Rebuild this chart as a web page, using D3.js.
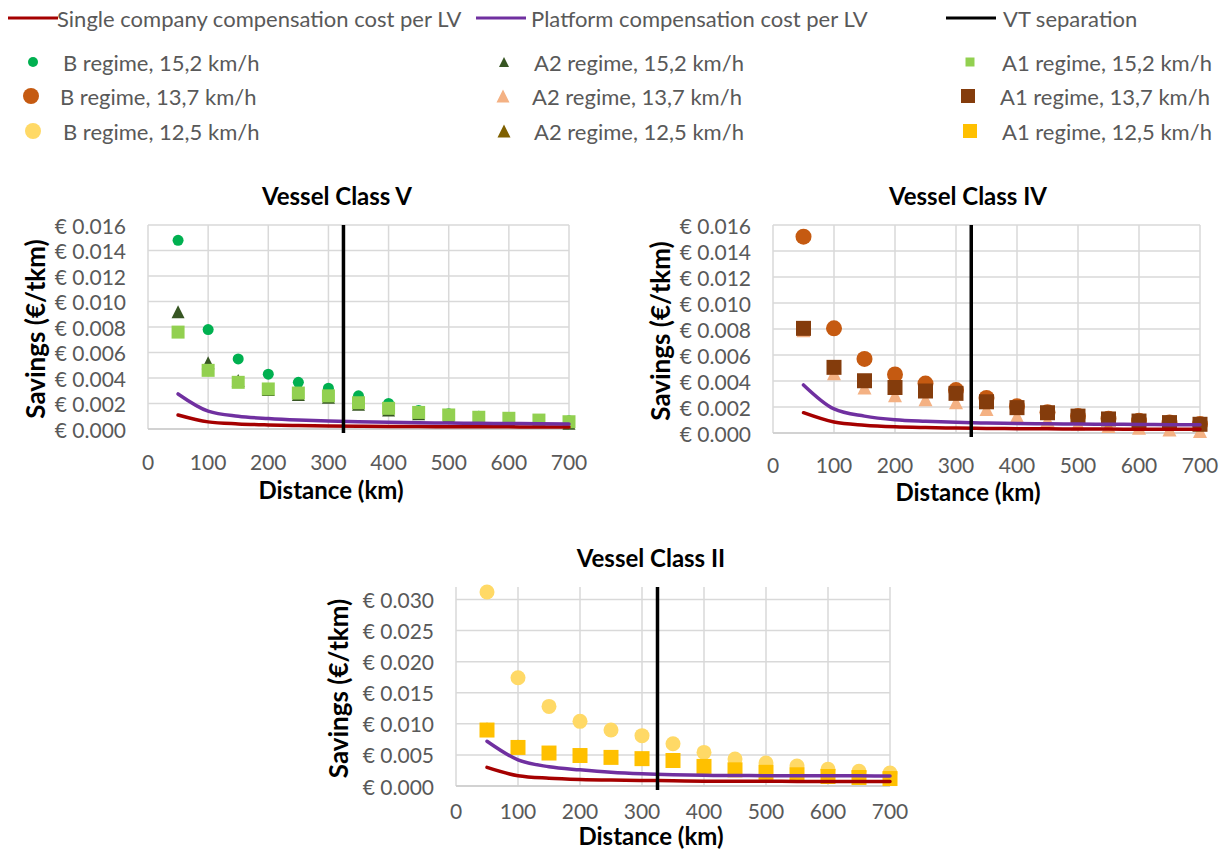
<!DOCTYPE html>
<html>
<head>
<meta charset="utf-8">
<script src="https://cdn.jsdelivr.net/npm/d3@7"></script>
<style>
  body { margin: 0; background: #fff; }
  text { font-family: Lato, "Open Sans", sans-serif; }
</style>
</head>
<body>
<div id="chart"></div>
<script>
// distances (km) shared by all series
const distances = [50, 100, 150, 200, 250, 300, 350, 400, 450, 500, 550, 600, 650, 700];
const xTicks = [0, 100, 200, 300, 400, 500, 600, 700];
const vtSeparation = 325;

// Vessel Class V (15,2 km/h)
const vSingle   = [0.00110, 0.00056, 0.00040, 0.00032, 0.00027, 0.00024, 0.00022, 0.00020, 0.00019, 0.00018, 0.00018, 0.00017, 0.00016, 0.00016];
const vPlatform = [0.00275, 0.00140, 0.00100, 0.00082, 0.00070, 0.00062, 0.00056, 0.00052, 0.00049, 0.00047, 0.00045, 0.00043, 0.00041, 0.00040];
const vB  = [0.0148, 0.0078, 0.0055, 0.0043, 0.00366, 0.0032, 0.0026, 0.0020, 0.00145, 0.0012, 0.0010, 0.00085, 0.00075, 0.00065];
const vA2 = [0.0092, 0.0052, 0.0038, 0.0031, 0.0027, 0.0025, 0.00195, 0.0015, 0.0012, 0.00098, 0.0008, 0.0007, 0.00058, 0.00046];
const vA1 = [0.0076, 0.0046, 0.00366, 0.00314, 0.00282, 0.0026, 0.00206, 0.00162, 0.0013, 0.0011, 0.00092, 0.00084, 0.0007, 0.00057];

// Vessel Class IV (13,7 km/h)
const ivSingle   = [0.00156, 0.00084, 0.00060, 0.00048, 0.00042, 0.00038, 0.00035, 0.00033, 0.00032, 0.00031, 0.00030, 0.00029, 0.00028, 0.00028];
const ivPlatform = [0.0037, 0.00185, 0.0013, 0.00102, 0.0009, 0.00082, 0.00077, 0.00074, 0.00071, 0.00069, 0.00067, 0.00066, 0.00064, 0.00063];
const ivB  = [0.0151, 0.00805, 0.0057, 0.0045, 0.0038, 0.0033, 0.0027, 0.00206, 0.0016, 0.0013, 0.0011, 0.00095, 0.0008, 0.0007];
const ivA2 = [0.0079, 0.0046, 0.0035, 0.0029, 0.0026, 0.00236, 0.00184, 0.00132, 0.0010, 0.00073, 0.00053, 0.0004, 0.00027, 0.00015];
const ivA1 = [0.00805, 0.00505, 0.00402, 0.0035, 0.00323, 0.00305, 0.0024, 0.00195, 0.00156, 0.0013, 0.00108, 0.00092, 0.0008, 0.00067];

// Vessel Class II (12,5 km/h)
const iiSingle   = [0.0030, 0.00165, 0.00125, 0.00105, 0.00095, 0.0009, 0.00083, 0.00078, 0.00076, 0.00075, 0.00074, 0.00073, 0.00072, 0.00072];
const iiPlatform = [0.0072, 0.0042, 0.0031, 0.0026, 0.0022, 0.00195, 0.0018, 0.00172, 0.00168, 0.00166, 0.00165, 0.00164, 0.00163, 0.00162];
const iiB  = [0.0312, 0.0174, 0.0128, 0.0104, 0.0090, 0.0081, 0.0068, 0.0054, 0.00435, 0.0037, 0.0032, 0.0027, 0.00237, 0.0021];
const iiA2 = [0.0093, 0.0065, 0.0055, 0.0051, 0.0048, 0.0046, 0.0039, 0.0030, 0.00245, 0.00205, 0.00165, 0.0014, 0.0012, 0.00105];
const iiA1 = [0.0090, 0.0062, 0.0053, 0.0049, 0.0046, 0.0044, 0.0041, 0.00315, 0.0026, 0.0022, 0.0018, 0.00153, 0.00137, 0.0012];

const colors = {
    single: "#a50000", platform: "#7030a0", vt: "#000000",
    b152: "#00b050", a2152: "#375623", a1152: "#92d050",
    b137: "#c55a11", a2137: "#f4b183", a1137: "#843c0c",
    b125: "#ffd966", a2125: "#7f6000", a1125: "#ffc000"
};

const svg = d3.select('#chart')
    .append('svg')
    .attr('width', 1225)
    .attr('height', 852)
    .style('background-color', '#ffffff');

// marker helper: circle / triangle / square centred on (0,0)
const markerPath = (shape, s) => {
    const h = s / 2;
    if (shape === 'circle') return `M${-h},0A${h},${h} 0 1,0 ${h},0A${h},${h} 0 1,0 ${-h},0Z`;
    if (shape === 'triangle') return `M0,${-h}L${h},${h}L${-h},${h}Z`;
    return `M${-h},${-h}H${h}V${h}H${-h}Z`;
};

// ---------- legend ----------
const legendLines = [
    {label: 'Single company compensation cost per LV', color: colors.single, x: 8, tx: 57},
    {label: 'Platform compensation cost per LV', color: colors.platform, x: 476, tx: 531},
    {label: 'VT separation', color: colors.vt, x: 946, tx: 1003}
];
const legendMarkers = [
    {label: 'B regime, 15,2 km/h', color: colors.b152, shape: 'circle', size: 10, x: 33, tx: 63, y: 62},
    {label: 'A2 regime, 15,2 km/h', color: colors.a2152, shape: 'triangle', size: 10, x: 504, tx: 534, y: 62},
    {label: 'A1 regime, 15,2 km/h', color: colors.a1152, shape: 'square', size: 9, x: 970, tx: 1002, y: 62},
    {label: 'B regime, 13,7 km/h', color: colors.b137, shape: 'circle', size: 16, x: 31, tx: 60, y: 96},
    {label: 'A2 regime, 13,7 km/h', color: colors.a2137, shape: 'triangle', size: 13, x: 503, tx: 532, y: 96},
    {label: 'A1 regime, 13,7 km/h', color: colors.a1137, shape: 'square', size: 14, x: 968, tx: 1000, y: 96},
    {label: 'B regime, 12,5 km/h', color: colors.b125, shape: 'circle', size: 16, x: 33, tx: 63, y: 131},
    {label: 'A2 regime, 12,5 km/h', color: colors.a2125, shape: 'triangle', size: 13, x: 504, tx: 534, y: 131},
    {label: 'A1 regime, 12,5 km/h', color: colors.a1125, shape: 'square', size: 14, x: 970, tx: 1002, y: 131}
];
const legend = svg.append('g');
legend.selectAll('line')
    .data(legendLines)
    .enter()
    .append('line')
        .attr('x1', d => d.x)
        .attr('x2', d => d.x + 50)
        .attr('y1', 18)
        .attr('y2', 18)
        .attr('stroke', d => d.color)
        .attr('stroke-width', 3);
legend.selectAll('text.ll')
    .data(legendLines)
    .enter()
    .append('text')
        .attr('class', 'll')
        .attr('x', d => d.tx)
        .attr('y', 18)
        .attr('dominant-baseline', 'central')
        .style('font-size', '22px')
        .attr('fill', '#595959')
        .text(d => d.label);
legend.selectAll('path')
    .data(legendMarkers)
    .enter()
    .append('path')
        .attr('transform', d => `translate(${d.x},${d.y})`)
        .attr('d', d => markerPath(d.shape, d.size))
        .attr('fill', d => d.color);
legend.selectAll('text.lm')
    .data(legendMarkers)
    .enter()
    .append('text')
        .attr('class', 'lm')
        .attr('x', d => d.tx)
        .attr('y', d => d.y)
        .attr('dominant-baseline', 'central')
        .style('font-size', '22px')
        .attr('fill', '#595959')
        .text(d => d.label);

// ---------- charts ----------
const charts = [
    {title: 'Vessel Class V', single: vSingle, platform: vPlatform,
     series: [{v: vB, c: colors.b152, shape: 'circle', s: 11}, {v: vA2, c: colors.a2152, shape: 'triangle', s: 13}, {v: vA1, c: colors.a1152, shape: 'square', s: 13}],
     yMax: 0.016, yTicks: d3.range(0, 0.0161, 0.002),
     left: 148, right: 569, top: 225, bottom: 429,
     titleX: 337, titleY: 195, xLabY: 461, xTitleX: 331, xTitleY: 489, yTitleX: 35},
    {title: 'Vessel Class IV', single: ivSingle, platform: ivPlatform,
     series: [{v: ivB, c: colors.b137, shape: 'circle', s: 16}, {v: ivA2, c: colors.a2137, shape: 'triangle', s: 14}, {v: ivA1, c: colors.a1137, shape: 'square', s: 15}],
     yMax: 0.016, yTicks: d3.range(0, 0.0161, 0.002),
     left: 773, right: 1200, top: 225, bottom: 433,
     titleX: 968, titleY: 195, xLabY: 464, xTitleX: 968, xTitleY: 491, yTitleX: 660},
    {title: 'Vessel Class II', single: iiSingle, platform: iiPlatform,
     series: [{v: iiB, c: colors.b125, shape: 'circle', s: 15}, {v: iiA2, c: colors.a2125, shape: 'triangle', s: 12}, {v: iiA1, c: colors.a1125, shape: 'square', s: 15}],
     yMax: 0.032, yTicks: d3.range(0, 0.0301, 0.005),
     left: 456, right: 890, top: 587, bottom: 786,
     titleX: 651, titleY: 557, xLabY: 810, xTitleX: 651, xTitleY: 835, yTitleX: 338}
];

charts.forEach(cfg => {
    const g = svg.append('g');
    const x = d3.scaleLinear().domain([0, 700]).range([cfg.left, cfg.right]);
    const y = d3.scaleLinear().domain([0, cfg.yMax]).range([cfg.bottom, cfg.top]);

    // gridlines
    g.selectAll('line.hg')
        .data(cfg.yTicks)
        .enter()
        .append('line')
            .attr('x1', cfg.left).attr('x2', cfg.right)
            .attr('y1', d => y(d)).attr('y2', d => y(d))
            .attr('stroke', '#d9d9d9')
            .attr('stroke-width', 1.5);
    g.selectAll('line.vg')
        .data(xTicks)
        .enter()
        .append('line')
            .attr('x1', d => x(d)).attr('x2', d => x(d))
            .attr('y1', cfg.top).attr('y2', cfg.bottom)
            .attr('stroke', '#d9d9d9')
            .attr('stroke-width', 1.5);
    g.append('line')
        .attr('x1', cfg.left).attr('x2', cfg.right)
        .attr('y1', cfg.bottom).attr('y2', cfg.bottom)
        .attr('stroke', '#cccccc')
        .attr('stroke-width', 1.5);

    // tick labels
    g.selectAll('text.yl')
        .data(cfg.yTicks)
        .enter()
        .append('text')
            .attr('x', cfg.left - 22)
            .attr('y', d => y(d))
            .attr('text-anchor', 'end')
            .attr('dominant-baseline', 'central')
            .style('font-size', '21px')
            .attr('fill', '#595959')
            .text(d => '€ ' + d3.format('.3f')(d));
    g.selectAll('text.xl')
        .data(xTicks)
        .enter()
        .append('text')
            .attr('x', d => x(d))
            .attr('y', cfg.xLabY)
            .attr('text-anchor', 'middle')
            .attr('dominant-baseline', 'central')
            .style('font-size', '21px')
            .attr('fill', '#595959')
            .text(d => d);

    // titles
    g.append('text')
        .attr('x', cfg.titleX).attr('y', cfg.titleY)
        .attr('text-anchor', 'middle').attr('dominant-baseline', 'central')
        .style('font-size', '24px').style('font-weight', 'bold')
        .text(cfg.title);
    g.append('text')
        .attr('x', cfg.xTitleX).attr('y', cfg.xTitleY)
        .attr('text-anchor', 'middle').attr('dominant-baseline', 'central')
        .style('font-size', '24px').style('font-weight', 'bold')
        .text('Distance (km)');
    g.append('text')
        .attr('transform', `translate(${cfg.yTitleX},${(cfg.top + cfg.bottom) / 2 + 2}) rotate(-90)`)
        .attr('text-anchor', 'middle').attr('dominant-baseline', 'central')
        .style('font-size', '26px').style('font-weight', 'bold')
        .text('Savings (€/tkm)');

    // markers: B, A2, A1 (A1 drawn last, on top)
    cfg.series.forEach(s => {
        g.append('g')
            .selectAll('path')
            .data(distances.map((d, i) => ({d: d, v: s.v[i]})))
            .enter()
            .append('path')
                .attr('transform', p => `translate(${x(p.d)},${y(p.v)})`)
                .attr('d', markerPath(s.shape, s.s))
                .attr('fill', s.c);
    });

    // cost lines (smoothed)
    const line = d3.line()
        .x(p => x(p.d))
        .y(p => y(p.v))
        .curve(d3.curveMonotoneX);
    [[cfg.single, colors.single], [cfg.platform, colors.platform]].forEach(([vals, col]) => {
        g.append('path')
            .datum(distances.map((d, i) => ({d: d, v: vals[i]})))
            .attr('d', line)
            .attr('fill', 'none')
            .attr('stroke', col)
            .attr('stroke-width', 3.5)
            .attr('stroke-linecap', 'round');
    });

    // VT separation
    g.append('line')
        .attr('x1', x(vtSeparation)).attr('x2', x(vtSeparation))
        .attr('y1', cfg.top).attr('y2', cfg.bottom + 4)
        .attr('stroke', colors.vt)
        .attr('stroke-width', 3.5);
});
</script>
</body>
</html>
